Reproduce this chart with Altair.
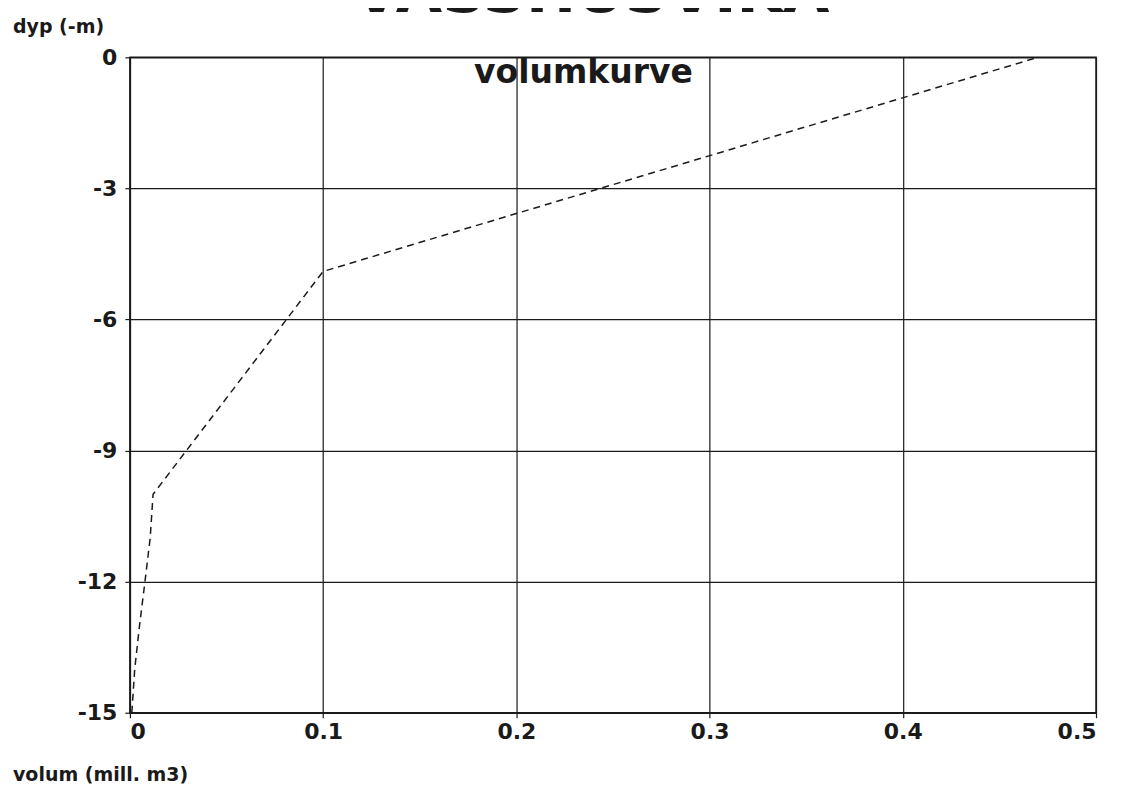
import altair as alt
import pandas as pd

# values
volume = [0.001, 0.0025, 0.005, 0.0078, 0.0105, 0.012, 0.1, 0.47]
depth = [-15, -14, -13, -12, -11, -10, -4.9, 0]
x_ticks = [0, 0.1, 0.2, 0.3, 0.4, 0.5]
y_ticks = [0, -3, -6, -9, -12, -15]

title_text = "VASSHUSVIKA"
subtitle_text = "volumkurve"
y_label = "dyp (-m)"
x_label = "volum (mill. m3)"

df = pd.DataFrame({"volum": volume, "dyp": depth})

FONT = "DejaVu Sans"
W, H = 967, 656

line = alt.Chart(df).mark_line(
    color="#1a1a1a", strokeWidth=1.5, strokeDash=[7, 5]
).encode(
    x=alt.X("volum:Q",
            scale=alt.Scale(domain=[0, 0.5], nice=False, zero=False),
            axis=alt.Axis(values=x_ticks, title=None,
                          labelExpr="toString(datum.value)",
                          grid=True, tickSize=5, labelPadding=4,
                          labelFontSize=22)),
    y=alt.Y("dyp:Q",
            scale=alt.Scale(domain=[-15, 0], nice=False, zero=False),
            axis=alt.Axis(values=y_ticks, title=None,
                          labelExpr="toString(datum.value)",
                          grid=True, tickSize=5, labelPadding=8,
                          labelFontSize=22)),
    order=alt.Order("dyp:Q"),
)


def label(txt, x, y, size, align="left", baseline="alphabetic"):
    return alt.Chart(pd.DataFrame({"t": [txt]})).mark_text(
        font=FONT, fontWeight="bold", fontSize=size, color="#1a1a1a",
        align=align, baseline=baseline,
    ).encode(x=alt.value(x), y=alt.value(y), text="t:N")


chart = alt.layer(
    line,
    label(title_text, 462, -45, 60, align="center"),
    label(subtitle_text, 454, 26, 33, align="center"),
    label(y_label, -117, -24, 19),
    label(x_label, -117, 724, 19),
).properties(
    width=W, height=H,
    autosize=alt.AutoSizeParams(type="none"),
    padding={"left": 122, "top": 49, "right": 20, "bottom": 78},
).configure_view(
    stroke="#1a1a1a", strokeWidth=1.5
).configure_axis(
    labelFont=FONT, labelFontWeight="bold", labelColor="#1a1a1a",
    domainColor="#1a1a1a", domainWidth=1.5,
    tickColor="#1a1a1a", tickWidth=1.2,
    gridColor="#1a1a1a", gridOpacity=1, gridWidth=1.2,
)

chart.save("out.html", embed_options={"renderer": "svg", "actions": False})
